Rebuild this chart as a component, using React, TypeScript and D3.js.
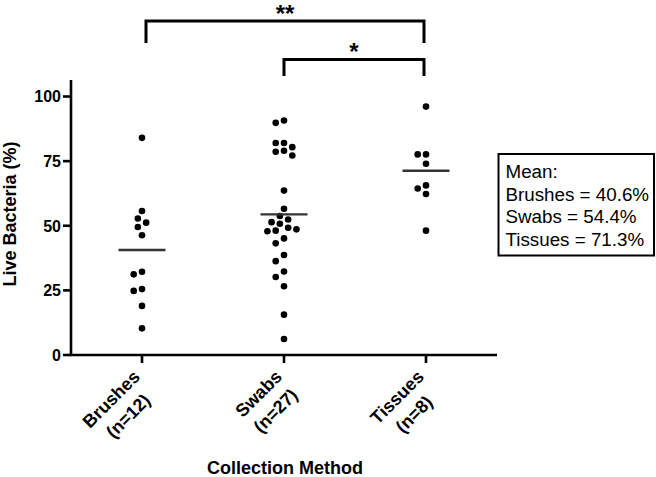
import React from "react";
import * as d3 from "d3";

// values (% live bacteria)
const categories = ["Brushes", "Swabs", "Tissues"];
const counts = [12, 27, 8];
const brushes = [84, 55.7, 52.8, 51.2, 49.5, 46.3, 32.2, 31.2, 25.5, 24.8, 19.0, 10.3];
const swabs = [
  90.7, 89.8, 82.0, 82.0, 80.4, 79.0, 78.6, 77.2, 63.6, 56.6, 53.8, 52.4, 51.4, 50.8,
  49.2, 48.6, 48.1, 47.9, 45.1, 43.2, 38.7, 36.3, 32.3, 30.2, 26.6, 15.6, 6.2
];
const tissues = [96.1, 77.6, 77.6, 74.0, 65.6, 64.4, 62.3, 48.1];
const means = [40.6, 54.4, 71.3];
const yTicks = [0, 25, 50, 75, 100];
const comparisons = [
  { from: "Brushes", to: "Tissues", label: "**" },
  { from: "Swabs", to: "Tissues", label: "*" }
];

const FONT = "'Liberation Sans', Arial, Helvetica, sans-serif";

const x = d3.scaleBand().domain(categories).range([71, 497]);
const y = d3.scaleLinear().domain([0, 100]).range([355, 96.5]);
const cx = (c: string) => (x(c) as number) + x.bandwidth() / 2;

// simple beeswarm: spread points that would overlap sideways in half steps
function swarm(values: number[], center: number) {
  const step = 4.15;
  const minD = 7.6;
  const pts = values.map(v => ({ v, py: y(v) })).sort((a, b) => a.py - b.py);
  const placed: { px: number; py: number }[] = [];
  pts.forEach(p => {
    for (let k = 0; k < 40; k++) {
      const off = k === 0 ? 0 : Math.ceil(k / 2) * (k % 2 ? -1 : 1) * step;
      const px = center + off;
      const ok = placed.every(q => (q.px - px) ** 2 + (q.py - p.py) ** 2 >= minD * minD);
      if (ok) {
        placed.push({ px, py: p.py });
        break;
      }
    }
  });
  return placed;
}

function textWidth(s: string, font: string) {
  const ctx = document.createElement("canvas").getContext("2d");
  if (!ctx) return s.length * 9;
  ctx.font = font;
  return ctx.measureText(s).width;
}

export default function App() {
  const groups = [brushes, swabs, tissues];
  const catFont = "bold 18px " + FONT;

  return (
    <svg width={656} height={477}
      style={{ display: "block", position: "absolute", left: 0, top: 0 }}>
      <rect x={0} y={0} width={656} height={477} fill="#fff" />

      {/* y axis */}
      <line x1={71} x2={71} y1={y(0) + 1} y2={80} stroke="#000" strokeWidth={2.6} />
      {yTicks.map(t => (
        <g key={t} transform={`translate(0,${y(t)})`}>
          <line x1={63} x2={71} stroke="#000" strokeWidth={2.6} />
          <text x={61} dy="0.36em" textAnchor="end" fontFamily={FONT} fontWeight="bold"
            fontSize={16}>{t}</text>
        </g>
      ))}
      <text transform={`translate(16,214) rotate(-90)`} textAnchor="middle" fontFamily={FONT}
        fontWeight="bold" fontSize={18}>Live Bacteria (%)</text>

      {/* x axis */}
      <line x1={70} x2={497} y1={y(0)} y2={y(0)} stroke="#000" strokeWidth={2.6} />
      {categories.map((c, i) => {
        const lines = [c, `(n=${counts[i]})`];
        const wMax = Math.max(...lines.map(l => textWidth(l, catFont)));
        return (
          <g key={c}>
            <line x1={cx(c)} x2={cx(c)} y1={y(0)} y2={y(0) + 8} stroke="#000" strokeWidth={2.6} />
            <g transform={`translate(${cx(c) - 1},378) rotate(-45)`}>
              {lines.map((l, j) => (
                <text key={j} x={-wMax / 2} y={j * 24} textAnchor="middle" fontFamily={FONT}
                  fontWeight="bold" fontSize={18}>{l}</text>
              ))}
            </g>
          </g>
        );
      })}
      <text x={285} y={474} textAnchor="middle" fontFamily={FONT} fontWeight="bold"
        fontSize={18}>Collection Method</text>

      {/* points and means */}
      {categories.map((c, i) => (
        <g key={c}>
          {swarm(groups[i], cx(c)).map((p, j) => (
            <circle key={j} cx={p.px} cy={p.py} r={3.3} fill="#000" />
          ))}
          <line x1={cx(c) - 23.5} x2={cx(c) + 23.5} y1={y(means[i])} y2={y(means[i])}
            stroke="#333" strokeWidth={2.4} />
        </g>
      ))}

      {/* significance brackets */}
      {comparisons.map((cmp, i) => {
        const top = i === 0 ? 21 : 59.5;
        const bottom = i === 0 ? 43 : 76;
        const x1 = cx(cmp.from) + (i === 0 ? 4 : 0);
        const x2 = cx(cmp.to) - 2;
        return (
          <g key={i}>
            <path d={`M${x1},${bottom}V${top}H${x2}V${bottom}`} fill="none" stroke="#000"
              strokeWidth={3} />
            <text x={(x1 + x2) / 2} y={top + 0.5} textAnchor="middle" fontFamily={FONT}
              fontWeight="bold" fontSize={24}>{cmp.label}</text>
          </g>
        );
      })}

      {/* legend */}
      <rect x={498.5} y={154} width={155.5} height={101.5} fill="#fff" stroke="#000"
        strokeWidth={2} />
      <g fontFamily={FONT} fontSize={18.8}>
        <text x={505.5} y={178}>Mean:</text>
        {categories.map((c, i) => (
          <text key={c} x={505.5} y={200.5 + i * 22.5}>{`${c} = ${means[i].toFixed(1)}%`}</text>
        ))}
      </g>
    </svg>
  );
}
